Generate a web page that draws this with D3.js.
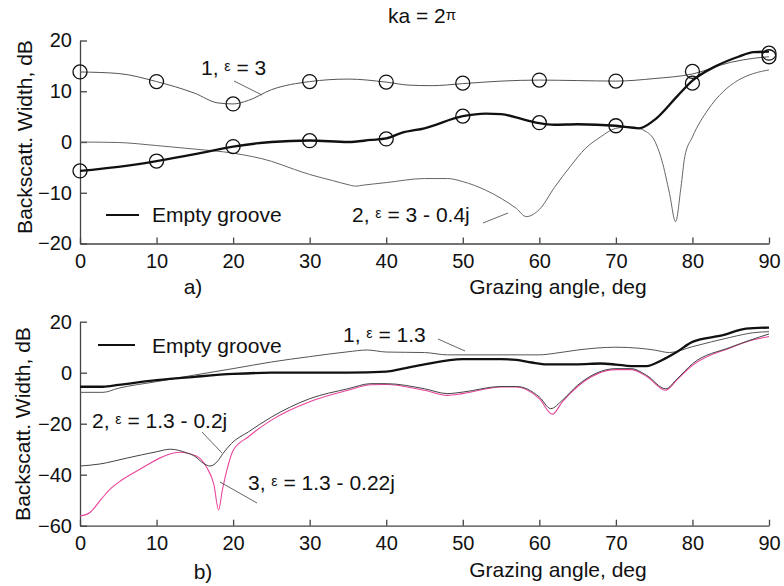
<!DOCTYPE html>
<html><head><meta charset="utf-8">
<script src="https://cdn.jsdelivr.net/npm/d3@7/dist/d3.min.js"></script>
<style>
body{margin:0;background:#fff;}
svg{display:block;font-family:"Liberation Sans",Arial,Helvetica,sans-serif;}
</style></head>
<body>
<svg id="chart" width="784" height="586"></svg>
<script>
// ---------- DATA ----------
const xTicks = [0,10,20,30,40,50,60,70,80,90];
const yTicksA = [-20,-10,0,10,20];
const yTicksB = [-60,-40,-20,0,20];

// Panel a) ka = 2π
const aEps3X = [0,5,10,15,18,20,22,25,30,35,40,43,46,50,55,60,65,70,75,80,85,88,90];
const aEps3Y = [13.8,13.5,11.9,9.6,7.7,7.5,8.2,10.3,11.9,12.4,11.8,11.2,11.1,11.5,12.0,12.2,12.1,12.0,12.5,13.4,15.7,16.5,16.8];
const aEmptyX = [0,5,10,15,20,25,30,35,38,40,42,45,50,53,55,58,60,62,65,70,73,75,78,80,83,86,88,90];
const aEmptyY = [-5.7,-4.9,-3.75,-2.4,-0.9,0,0.3,0,0.4,0.7,1.8,2.7,5.1,5.6,5.5,4.4,3.7,3.4,3.5,3.2,2.7,4.3,9.0,12.1,14.9,16.8,17.7,17.8];
const aLossX = [0,5,10,15,20,25,28,30,33,35,36,37,40,45,48,50,53,55,57,58.3,60,62,64,66,68,70,72,74,75,76,77,77.8,78.5,79,80,82,84,86,88,90];
const aLossY = [0,-0.1,-0.7,-1.4,-2.2,-3.8,-5.4,-6.4,-7.6,-8.4,-8.7,-8.5,-8.0,-7.2,-7.2,-7.8,-9.5,-11.1,-13.1,-14.7,-13.3,-8.9,-4.9,-1.3,1.0,2.7,3.0,2.0,0.4,-3.6,-10.1,-15.7,-8.9,-2.9,1.0,6.3,9.9,12.2,13.5,14.2];
const aMarkX = [0,10,20,30,40,50,60,70,80,90];
const aMarkEps3 = [13.8,11.9,7.5,11.9,11.8,11.6,12.2,12.0,13.9,16.8];
const aMarkEmpty = [-5.7,-3.75,-0.9,0.26,0.6,5.1,3.8,3.2,11.6,17.5];

// Panel b)
const bEps13X = [0,3,5,10,15,20,25,30,35,37.5,40,45,48,50,55,60,62,65,70,73,75,77,80,85,88,90];
const bEps13Y = [-7.7,-7.7,-6.1,-3.5,-0.9,1.6,4.2,6.3,8.2,8.9,8.1,7.9,7.0,7.0,7.0,7.0,7.6,8.9,10.0,9.6,8.9,7.9,10.2,13.9,15.7,16.1];
const bEmptyX = [0,3,5,10,15,20,25,30,35,40,42,45,50,55,57,59,61,65,68,70,72,74,76,78,80,84,87,90];
const bEmptyY = [-5.5,-5.5,-4.8,-2.9,-1.6,-0.5,0,0,0,0.4,1.5,3.3,5.3,5.3,5.0,4.0,3.3,3.3,3.6,3.2,2.6,2.6,4.9,8.2,12.1,14.7,17.3,17.7];
const bLoss2X = [0,2.6,6.1,10,11.8,13.9,15,16.1,17,18,18.7,19.8,22,25,30,35,38,40,45,48,50,55,57,60,61.5,63,65,70,72,74,76.5,78,80,85,90];
const bLoss2Y = [-36.6,-35.8,-33.5,-31.0,-30.0,-31.4,-32.8,-35.5,-36.6,-34.6,-31.6,-27.7,-23.2,-17.4,-10.2,-6.3,-4.3,-4.3,-6.3,-8.2,-7.6,-5.4,-5.4,-9.5,-14.1,-10.8,-4.9,1.6,1.6,-1.0,-6.3,-2.4,3.5,10.0,15.2];
const bLoss3X = [0,1.3,2.8,4,5.4,8.1,10.4,12.2,13,15.2,16.5,17.5,18.1,18.6,19.2,20,22,25,30,35,38,40,45,48,50,55,57,60,61.7,63,65,70,72,74,76.5,78,80,85,88,90];
const bLoss3Y = [-56.2,-54.8,-49.5,-45.5,-42.2,-37.4,-33.5,-31.5,-31.2,-32.7,-36.9,-44,-53.8,-46,-38,-30.5,-25.1,-18.6,-11.4,-6.9,-4.7,-4.6,-6.9,-8.9,-8.2,-5.6,-5.6,-10.2,-16.3,-11.4,-5.4,1.2,1.2,-1.4,-6.9,-2.7,2.9,9.8,12.9,14.2];

// ---------- DRAW ----------
const svg = d3.select("#chart");
const FONT = 20;
const x = d3.scaleLinear().domain([0,90]).range([80,769]);
const yA = d3.scaleLinear().domain([-20,20]).range([243.5,40.5]);
const yB = d3.scaleLinear().domain([-60,20]).range([525.7,321.7]);

function zip(xs, ys){ return xs.map((v,i)=>[v, ys[i]]); }

function drawAxes(y, yTicks, axisY, titleX, titleY, panelLabel, labelX, labelY, xTitleY){
  const gx = svg.append("g").attr("transform",`translate(0,${axisY})`)
    .call(d3.axisBottom(x).tickValues(xTicks).tickSize(-6).tickSizeOuter(0).tickPadding(10).tickFormat(d3.format("d")));
  const gy = svg.append("g").attr("transform",`translate(80,0)`)
    .call(d3.axisLeft(y).tickValues(yTicks).tickSize(-7).tickSizeOuter(0).tickPadding(8).tickFormat(d3.format("d")));
  [gx,gy].forEach(g=>{
    g.selectAll("path,line").attr("stroke","#444").attr("stroke-width",1.3);
    g.selectAll("text").attr("font-size",FONT).attr("fill","#111").attr("font-family",null);
  });
  svg.append("text").attr("transform",`translate(${titleX},${titleY}) rotate(-90)`)
    .attr("text-anchor","middle").attr("font-size",21).attr("fill","#111").text("Backscatt. Width, dB");
  svg.append("text").attr("x",558).attr("y",xTitleY).attr("text-anchor","middle")
    .attr("font-size",21).attr("fill","#111").text("Grazing angle, deg");
  svg.append("text").attr("x",labelX).attr("y",labelY).attr("text-anchor","middle")
    .attr("font-size",21).attr("fill","#111").text(panelLabel);
}

function curve(y, xs, ys, color, width){
  const line = d3.line().x(d=>x(d[0])).y(d=>y(d[1])).curve(d3.curveMonotoneX);
  svg.append("path").datum(zip(xs,ys)).attr("d",line)
    .attr("fill","none").attr("stroke",color).attr("stroke-width",width)
    .attr("stroke-linejoin","round");
}

function epsLabel(px, py, pre, post){
  const t = svg.append("text").attr("x",px).attr("y",py).attr("font-size",21).attr("fill","#111");
  t.append("tspan").text(pre);
  t.append("tspan").attr("font-size",14).attr("dy",-4).text("ε");
  t.append("tspan").attr("dy",4).text(post);
}
function leader(x1,y1,x2,y2){
  svg.append("line").attr("x1",x1).attr("y1",y1).attr("x2",x2).attr("y2",y2)
    .attr("stroke","#555").attr("stroke-width",0.9);
}

// Panel a
drawAxes(yA, yTicksA, 243.5, 32, 137, "a)", 193, 294, 294);
curve(yA, aLossX, aLossY, "#666", 1);
curve(yA, aEps3X, aEps3Y, "#555", 1);
curve(yA, aEmptyX, aEmptyY, "#111", 2.3);
[aMarkEps3, aMarkEmpty].forEach(vals=>{
  svg.append("g").selectAll("circle").data(zip(aMarkX, vals)).join("circle")
    .attr("cx",d=>x(d[0])).attr("cy",d=>yA(d[1])).attr("r",7)
    .attr("fill","none").attr("stroke","#111").attr("stroke-width",1.3);
});
// title
const tt = svg.append("text").attr("x",388).attr("y",23).attr("font-size",21).attr("fill","#111");
tt.append("tspan").text("ka = 2");
tt.append("tspan").attr("font-size",15).attr("dy",-3).text("π");

epsLabel(201, 75, "1, ", " = 3");
leader(234, 81, 262, 95);
epsLabel(352, 222, "2, ", " = 3 - 0.4j");
leader(483, 223, 508, 213);
svg.append("line").attr("x1",106).attr("x2",139).attr("y1",215).attr("y2",215).attr("stroke","#111").attr("stroke-width",2);
svg.append("text").attr("x",152).attr("y",222).attr("font-size",21).attr("fill","#111").text("Empty groove");

// Panel b
drawAxes(yB, yTicksB, 525.7, 30, 424, "b)", 203, 579, 577);
curve(yB, bLoss3X, bLoss3Y, "#e8449a", 1.1);
curve(yB, bLoss2X, bLoss2Y, "#444", 1);
curve(yB, bEps13X, bEps13Y, "#555", 1);
curve(yB, bEmptyX, bEmptyY, "#111", 2.3);

svg.append("line").attr("x1",98).attr("x2",135).attr("y1",345).attr("y2",345).attr("stroke","#111").attr("stroke-width",2);
svg.append("text").attr("x",152).attr("y",353).attr("font-size",21).attr("fill","#111").text("Empty groove");
epsLabel(343, 342, "1, ", " = 1.3");
leader(438, 339, 465, 351);
epsLabel(92, 428, "2, ", " = 1.3 - 0.2j");
leader(202, 432, 222, 453);
epsLabel(248, 490, "3, ", " = 1.3 - 0.22j");
leader(257, 503, 220, 482);
</script>
</body></html>
